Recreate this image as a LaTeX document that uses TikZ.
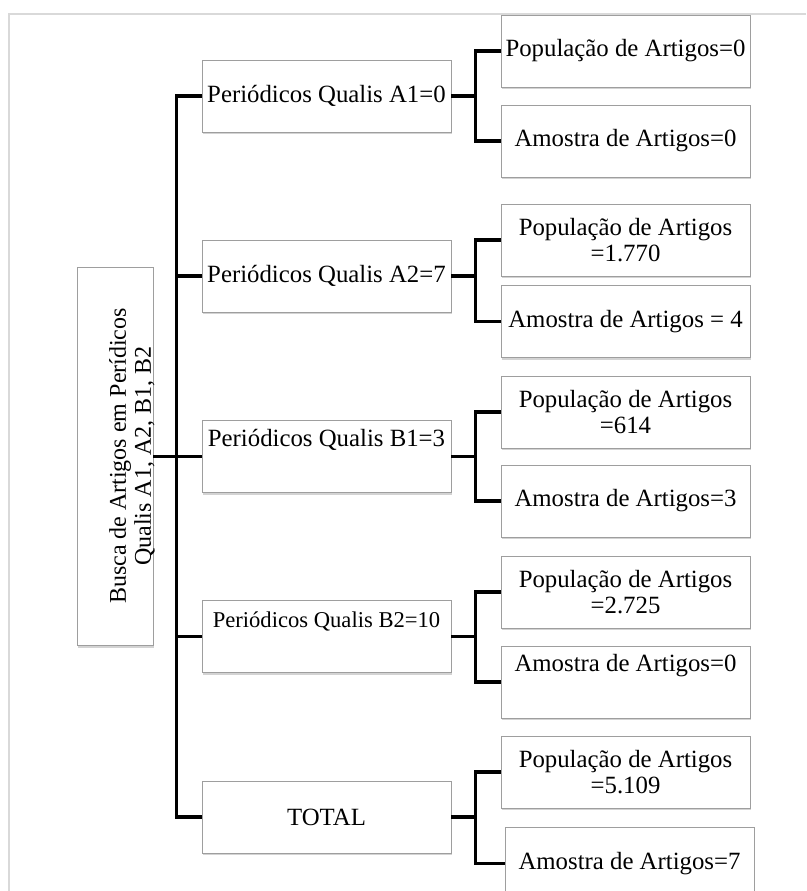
\documentclass[tikz,border=0pt]{standalone}
\usepackage{fontspec}
\setmainfont{Liberation Serif}
\usepackage[HTML]{xcolor}
\usepackage{tikz}
\usetikzlibrary{shadows}
\definecolor{framegray}{HTML}{D9D9D9}

\begin{document}
\begin{tikzpicture}[x=1pt, y=-1pt,
  box/.style={draw=black!38, line width=0.8pt, fill=white, minimum width=249pt, minimum height=72pt,
    inner sep=2pt, align=center, font=\fontsize{24.8}{26}\selectfont,
    drop shadow={shadow xshift=1.2pt, shadow yshift=-2.4pt, opacity=0.35}},
  conn/.style={line width=3.4pt}]
\useasboundingbox (0,0) rectangle (806,891);
\clip (0,0) rectangle (806,891);
% frame
\draw[framegray, line width=2pt] (806,14) -- (8.5,14) -- (8.5,891);
% root
\node[box, minimum width=76pt, minimum height=378pt] (busca) at (115,456.5) {};
\node[rotate=90, align=center, inner sep=0pt, font=\fontsize{24}{25}\selectfont] (buscatext) at (132,456) {Busca de Artigos em Perídicos\\Qualis A1, A2, B1, B2};
% periodicos
\node[box] (pA1) at (326.5,96) {Periódicos Qualis A1=0};
\node[box] (pA2) at (326.5,276) {Periódicos Qualis A2=7};
\node[box] (pB1) at (326.5,456.5) {Periódicos Qualis B1=3\\[4pt]\strut};
\node[box, font=\fontsize{22.6}{24}\selectfont] (pB2) at (326.5,636.5) {Periódicos Qualis B2=10\\[2pt]\strut};
\node[box] (ptot) at (326.5,817) {TOTAL};
% artigos
\node[box] (popA1) at (625.5,51) {População de Artigos=0};
\node[box] (amoA1) at (625.5,141) {Amostra de Artigos=0};
\node[box] (popA2) at (625.5,240) {População de Artigos\\=1.770};
\node[box] (amoA2) at (625.5,321.5) {Amostra de Artigos = 4};
\node[box] (popB1) at (625.5,412) {População de Artigos\\=614};
\node[box] (amoB1) at (625.5,501) {Amostra de Artigos=3};
\node[box] (popB2) at (625.5,592) {População de Artigos\\=2.725};
\node[box] (amoB2) at (625.5,682) {Amostra de Artigos=0\\[4pt]\strut};
\node[box] (popT) at (625.5,772) {População de Artigos\\=5.109};
\node[box] (amoT) at (629.5,863.5) {Amostra de Artigos=7};
% trunk
\draw[conn] (pA1.west) -- ++(-25,0) |- (ptot.west);
\draw[conn] (busca.east) -- (pB1.west);
\foreach \n in {pA2,pB2}
  \draw[conn] (\n.west) -- ++(-25,0);
% branches
\foreach \p/\pop/\amo in {pA1/popA1/amoA1, pA2/popA2/amoA2, pB1/popB1/amoB1, pB2/popB2/amoB2, ptot/popT/amoT} {
  \draw[conn] (\p.east) -- ++(25,0);
  \draw[conn] (\pop.west) -- ++(-25,0) |- (\amo.west);
}
\end{tikzpicture}
\end{document}
